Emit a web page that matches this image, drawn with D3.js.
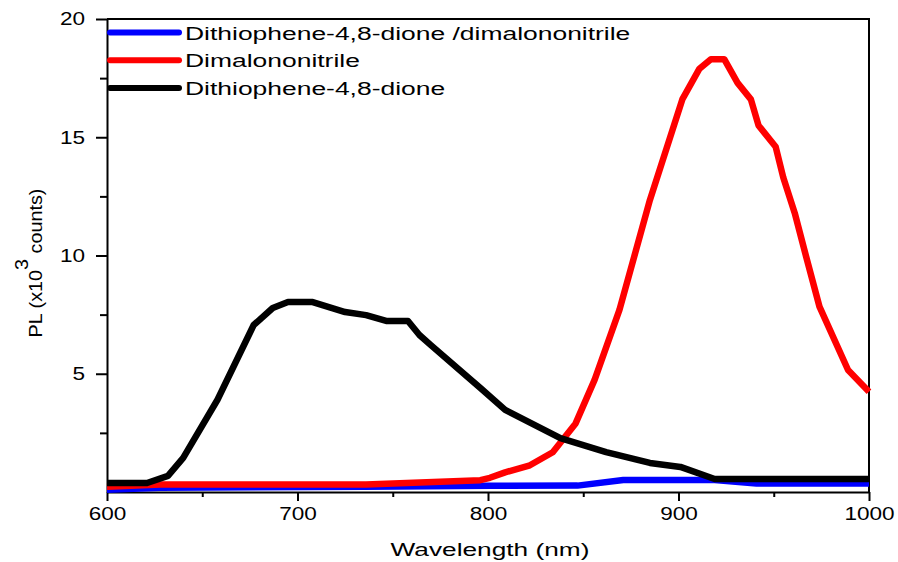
<!DOCTYPE html>
<meta charset="utf-8">
<head>
<style>
body { margin: 0; background: #fff; }
svg { display: block; }
.axis text { font-family: "Liberation Sans", Arial, sans-serif; font-size: 18.5px; fill: #000; }
.axis path, .axis line { stroke: #000; stroke-width: 2; fill: none; }
.lbl { font-family: "Liberation Sans", Arial, sans-serif; font-size: 18.5px; fill: #000; }
</style>
</head>
<body>
<script src="https://d3js.org/d3.v7.min.js"></script>
<script>

// series: wavelength (nm) and PL (x10^3 counts)
var blueWl  = [600, 628, 736, 801, 847, 871, 919, 941, 1000];
var blueVal = [0.1, 0.18, 0.22, 0.26, 0.27, 0.51, 0.51, 0.36, 0.36];

var redWl  = [600, 628, 736, 796, 801, 809, 822, 834, 846, 856, 869, 885, 902, 911, 917, 924, 931, 938, 942, 951, 955, 961, 967, 974, 989, 1000];
var redVal = [0.22, 0.32, 0.32, 0.5, 0.6, 0.83, 1.13, 1.68, 2.9, 4.75, 7.7, 12.35, 16.6, 17.9, 18.3, 18.3, 17.3, 16.6, 15.5, 14.6, 13.3, 11.8, 9.95, 7.84, 5.16, 4.24];

var blackWl  = [600, 621, 632, 640, 658, 677, 687, 695, 708, 725, 736, 747, 758, 764, 770, 796, 809, 838, 862, 885, 901, 919, 1000];
var blackVal = [0.38, 0.38, 0.68, 1.44, 3.9, 7.06, 7.78, 8.03, 8.03, 7.61, 7.48, 7.23, 7.23, 6.64, 6.21, 4.4, 3.47, 2.28, 1.69, 1.23, 1.06, 0.55, 0.55];

var seriesNames = ["Dithiophene-4,8-dione /dimalononitrile", "Dimalononitrile", "Dithiophene-4,8-dione"];
var seriesColors = ["#0000ff", "#ff0000", "#000000"];

var xMajor = [600, 700, 800, 900, 1000];
var xMinor = [650, 750, 850, 950];
var yMajor = [5, 10, 15, 20];
var yMinor = [2.5, 7.5, 12.5, 17.5];

var width = 898, height = 562;
var margin = {top: 19, right: 29, bottom: 70, left: 107};

var x = d3.scaleLinear().domain([600, 1000]).range([margin.left, width - margin.right]);
var y = d3.scaleLinear().domain([0, 20]).range([height - margin.bottom, margin.top]);

var svg = d3.select("body").append("svg")
    .attr("width", width)
    .attr("height", height);

// frame (top and right)
svg.append("path")
    .attr("d", "M" + x(600) + "," + y(20) + "H" + x(1000) + "V" + y(0))
    .attr("fill", "none")
    .attr("stroke", "#000")
    .attr("stroke-width", 2);

// x axis
svg.append("g")
    .attr("class", "axis")
    .attr("transform", "translate(0," + y(0) + ")")
    .call(d3.axisBottom(x).tickValues(xMinor).tickSize(5).tickFormat(""))
    .select(".domain").remove();

var gx = svg.append("g")
    .attr("class", "axis")
    .attr("transform", "translate(0," + y(0) + ")")
    .call(d3.axisBottom(x).tickValues(xMajor).tickSize(9).tickSizeOuter(0).tickFormat(d3.format("d")));
gx.selectAll(".tick text")
    .attr("y", 15)
    .attr("transform", "scale(1.22,1)");

// y axis
svg.append("g")
    .attr("class", "axis")
    .attr("transform", "translate(" + x(600) + ",0)")
    .call(d3.axisLeft(y).tickValues(yMinor).tickSize(7).tickFormat(""))
    .select(".domain").remove();

var gy = svg.append("g")
    .attr("class", "axis")
    .attr("transform", "translate(" + x(600) + ",0)")
    .call(d3.axisLeft(y).tickValues(yMajor).tickSize(11).tickSizeOuter(0).tickFormat(d3.format("d")));
gy.selectAll(".tick text")
    .attr("x", 0)
    .attr("transform", "translate(-22,0) scale(1.22,1)");

// curves
var line = d3.line()
    .x(function(d) { return x(d[0]); })
    .y(function(d) { return y(d[1]); });

var curves = [
  d3.zip(blueWl, blueVal),
  d3.zip(redWl, redVal),
  d3.zip(blackWl, blackVal)
];

svg.append("g")
    .selectAll("path")
    .data(curves)
    .enter().append("path")
    .attr("d", line)
    .attr("fill", "none")
    .attr("stroke", function(d, i) { return seriesColors[i]; })
    .attr("stroke-width", 6.5)
    .attr("stroke-linejoin", "round");

// legend
var legend = svg.append("g")
    .selectAll("g")
    .data(seriesNames)
    .enter().append("g")
    .attr("transform", function(d, i) { return "translate(" + (x(600) + 3) + "," + (32.5 + i * 27.7) + ")"; });

legend.append("line")
    .attr("x1", 0).attr("x2", 69)
    .attr("stroke", function(d, i) { return seriesColors[i]; })
    .attr("stroke-width", 6)
    .attr("stroke-linecap", "round");

legend.append("text")
    .attr("class", "lbl")
    .attr("transform", "translate(75,7) scale(1.43,1)")
    .text(function(d) { return d; });

// axis titles
svg.append("text")
    .attr("class", "lbl")
    .attr("text-anchor", "middle")
    .attr("transform", "translate(490,556) scale(1.42,1)")
    .text("Wavelength (nm)");

var yt = svg.append("text")
    .attr("class", "lbl")
    .attr("text-anchor", "middle")
    .attr("transform", "translate(42,263) rotate(-90) scale(1.07,1)");
yt.append("tspan").text("PL (x10");
yt.append("tspan").attr("dy", -14).text("3");
yt.append("tspan").attr("dy", 14).text(" counts)");

</script>
</body>
